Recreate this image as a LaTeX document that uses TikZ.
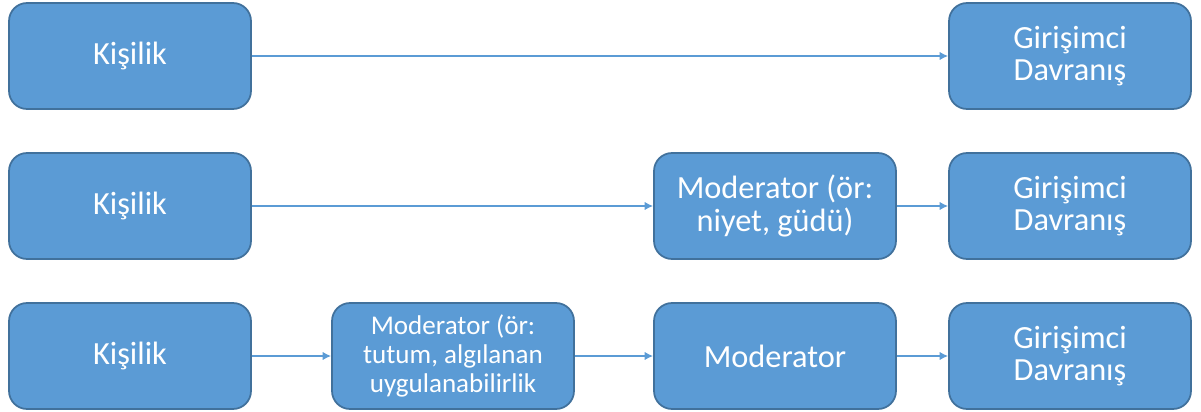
\documentclass[tikz,border=0pt]{standalone}
\usepackage{fontspec}
\setmainfont{Carlito}
\usetikzlibrary{arrows.meta}
\definecolor{kutumavi}{HTML}{5B9BD5}
\definecolor{kutukenar}{HTML}{41719C}
\begin{document}
\begin{tikzpicture}[x=0.02cm,y=-0.02cm,
  kutu/.style={draw=kutukenar,fill=kutumavi,line width=1pt,rounded corners=0.36cm,
    minimum width=4.84cm,minimum height=2.12cm,inner sep=0pt,text=white,align=center,
    font=\fontsize{18.4}{18.6}\selectfont},
  kucukkutu/.style={kutu,font=\fontsize{15.4}{16.5}\selectfont},
  ok/.style={-{Latex[length=1.7mm,width=1.7mm]},color=kutumavi,line width=0.9pt}]

\useasboundingbox (0,0) rectangle (1201,412);

% ilk satir
\node[kutu] (kisilik1) at (130,56) {Kişilik};
\node[kutu] (davranis1) at (1070,56) {Girişimci\\Davranış};

% ikinci satir
\node[kutu] (kisilik2) at (130,206) {Kişilik};
\node[kutu] (moderator2) at (775,206) {Moderator (ör:\\niyet, güdü)};
\node[kutu] (davranis2) at (1070,206) {Girişimci\\Davranış};

% ucuncu satir
\node[kutu] (kisilik3) at (130,356) {Kişilik};
\node[kucukkutu] (tutum3) at (453,356) {Moderator (ör:\\tutum, algılanan\\uygulanabilirlik};
\node[kutu] (moderator3) at (775,356) {Moderator};
\node[kutu] (davranis3) at (1070,356) {Girişimci\\Davranış};

\draw[ok] (kisilik1) -- (davranis1);
\draw[ok] (kisilik2) -- (moderator2);
\draw[ok] (moderator2) -- (davranis2);
\draw[ok] (kisilik3) -- (tutum3);
\draw[ok] (tutum3) -- (moderator3);
\draw[ok] (moderator3) -- (davranis3);

\end{tikzpicture}
\end{document}
